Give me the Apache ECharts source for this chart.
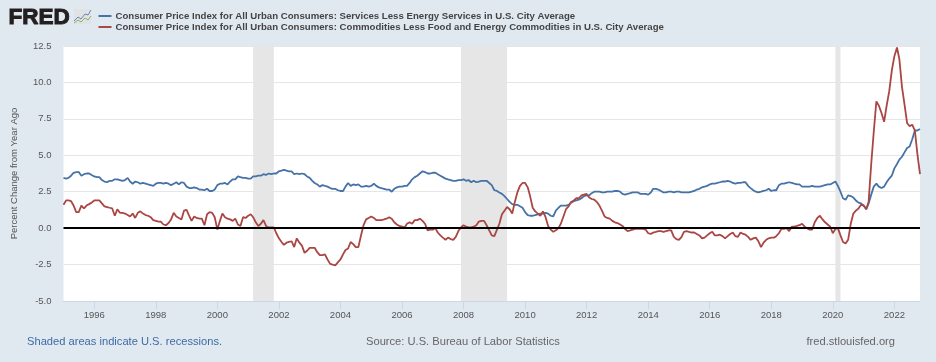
<!DOCTYPE html>
<html><head><meta charset="utf-8">
<style>html,body{margin:0;padding:0;background:#e1e9f0}#c{width:936px;height:362px}</style>
<script src="https://cdn.jsdelivr.net/npm/echarts@6/dist/echarts.min.js"></script>
</head><body><div id="c"></div>
<script>
const firstYear = 1995;
const seriesNames = [
  "Consumer Price Index for All Urban Consumers: Services Less Energy Services in U.S. City Average",
  "Consumer Price Index for All Urban Consumers: Commodities Less Food and Energy Commodities in U.S. City Average"
];
const services = [
3.45,3.4,3.45,3.6,3.8,3.85,3.85,3.6,3.7,3.75,3.75,3.65,
3.55,3.5,3.5,3.3,3.2,3.15,3.25,3.25,3.35,3.35,3.3,3.25,
3.3,3.45,3.2,3.05,3.2,3.15,3.05,3.1,3.05,3.0,2.95,2.9,
3.05,3.1,3.1,3.05,3.1,3.05,2.95,3.05,3.15,3.0,3.15,3.1,
2.85,2.75,2.75,2.8,2.75,2.65,2.65,2.6,2.7,2.55,2.55,2.65,
2.95,3.05,3.05,3.1,3.0,3.2,3.35,3.35,3.55,3.5,3.45,3.45,
3.4,3.4,3.55,3.55,3.6,3.6,3.7,3.65,3.75,3.7,3.75,3.75,
3.9,3.95,4.0,3.95,3.9,3.9,3.7,3.75,3.7,3.75,3.7,3.55,
3.45,3.25,3.1,3.0,2.85,2.95,2.9,2.85,2.75,2.7,2.7,2.6,
2.55,2.55,2.85,3.1,2.9,3.0,2.95,3.0,2.85,2.85,2.9,2.85,
2.9,3.05,2.9,2.8,2.75,2.7,2.65,2.65,2.5,2.7,2.8,2.85,
2.85,2.9,2.9,3.1,3.35,3.5,3.6,3.75,3.9,3.85,3.75,3.75,
3.8,3.8,3.7,3.6,3.5,3.4,3.35,3.3,3.25,3.25,3.3,3.3,
3.35,3.25,3.3,3.15,3.25,3.15,3.2,3.25,3.25,3.25,3.1,2.95,
2.6,2.55,2.45,2.35,2.2,2.0,1.8,1.65,1.6,1.6,1.5,1.4,
1.1,0.9,0.85,0.85,0.9,0.95,1.0,1.0,1.05,1.0,0.85,0.8,
1.2,1.4,1.55,1.55,1.55,1.6,1.75,1.85,1.9,1.95,2.05,2.2,
2.25,2.25,2.4,2.5,2.5,2.5,2.45,2.45,2.5,2.5,2.5,2.55,
2.55,2.5,2.35,2.3,2.35,2.4,2.45,2.45,2.45,2.35,2.35,2.35,
2.3,2.45,2.7,2.7,2.65,2.55,2.45,2.45,2.5,2.5,2.45,2.5,
2.5,2.45,2.45,2.45,2.45,2.5,2.55,2.65,2.7,2.8,2.85,2.9,
3.0,3.05,3.05,3.1,3.15,3.2,3.2,3.25,3.2,3.1,3.05,3.1,
3.1,3.15,3.15,2.9,2.75,2.6,2.5,2.45,2.5,2.55,2.6,2.7,
2.55,2.6,2.6,2.95,3.05,3.05,3.1,3.15,3.1,3.05,3.0,3.0,
2.85,2.85,2.85,2.85,2.9,2.85,2.85,2.85,2.9,2.95,3.0,3.0,
3.1,3.2,2.9,2.5,2.05,1.95,2.25,2.2,2.1,1.9,1.75,1.7,
1.55,1.3,1.7,2.3,2.85,3.05,2.85,2.75,2.85,3.15,3.4,3.6,
4.1,4.4,4.7,4.9,5.2,5.5,5.6,6.1,6.7,6.7,6.8
];
const commodities = [
1.6,1.9,1.9,1.85,1.55,1.1,1.1,1.55,1.35,1.55,1.65,1.75,
1.9,1.9,1.9,1.7,1.5,1.45,1.4,1.35,0.85,1.3,1.05,1.05,
1.0,0.9,0.8,1.0,0.7,1.05,1.15,1.0,0.9,0.85,0.75,0.55,
0.5,0.45,0.45,0.25,0.2,0.35,0.6,1.05,0.8,0.7,0.6,1.2,
1.25,0.85,0.5,0.8,0.7,0.65,0.65,0.2,0.95,1.1,1.05,0.75,
-0.1,0.5,1.0,0.75,0.65,0.6,0.5,0.65,0.25,0.15,0.75,0.7,
0.85,0.95,0.75,0.4,0.15,0.3,0.55,0.15,0.05,0.05,0.05,-0.35,
-0.7,-0.95,-1.15,-1.0,-0.95,-0.9,-1.3,-0.7,-1.0,-1.2,-1.7,-1.55,
-1.35,-1.35,-1.35,-1.65,-1.85,-1.85,-1.8,-2.15,-2.45,-2.5,-2.55,-2.35,
-2.15,-1.8,-1.5,-1.4,-0.95,-1.1,-1.3,-1.3,-0.5,0.2,0.6,0.7,
0.8,0.7,0.55,0.55,0.55,0.6,0.65,0.75,0.65,0.4,0.25,0.15,
0.1,0.05,0.3,0.4,0.3,0.55,0.55,0.65,0.5,0.3,-0.15,-0.1,
-0.1,0,-0.3,-0.5,-0.65,-0.8,-0.65,-0.75,-0.8,-0.6,-0.2,0.05,
0.2,0.1,0.05,0.05,0.1,0.2,0.45,0.5,0.5,0.2,-0.15,-0.5,
-0.55,-0.1,0.3,0.95,1.2,1.45,1.3,1.0,1.8,2.45,2.9,3.1,
3.1,2.8,2.2,1.4,1.15,1.0,0.85,1.15,0.75,0.15,-0.1,-0.25,
-0.15,0,0.3,0.8,1.3,1.5,1.8,1.9,2.05,2.05,2.25,2.3,
2.35,2.1,2.0,1.95,1.8,1.55,1.2,0.8,0.7,0.65,0.5,0.4,
0.35,0.25,0.15,-0.05,-0.2,-0.15,-0.1,-0.05,-0.05,-0.05,-0.05,-0.1,
-0.35,-0.4,-0.3,-0.25,-0.2,-0.2,-0.25,-0.2,-0.15,-0.15,-0.6,-0.75,
-0.8,-0.6,-0.25,-0.2,-0.25,-0.3,-0.3,-0.4,-0.5,-0.7,-0.65,-0.5,
-0.35,-0.25,-0.5,-0.5,-0.45,-0.55,-0.7,-0.55,-0.4,-0.3,-0.55,-0.6,
-0.3,-0.4,-0.45,-0.6,-0.8,-0.7,-0.65,-0.9,-1.3,-1.0,-0.8,-0.7,
-0.65,-0.65,-0.55,-0.35,-0.05,-0.05,0,-0.2,0.1,0.1,0.15,0.2,
0.3,0.1,0,-0.1,-0.1,0.4,0.7,0.85,0.6,0.4,0.25,0.1,
-0.35,-0.05,0,-0.5,-0.95,-1.05,-0.8,0.3,1.0,1.2,1.35,1.6,
1.55,1.3,1.8,4.4,6.6,8.7,8.4,7.9,7.3,8.4,9.4,10.8,
11.8,12.4,11.6,9.7,8.5,7.2,7.0,7.1,6.7,5.1,3.7
];
const yearTicks = [1996,1998,2000,2002,2004,2006,2008,2010,2012,2014,2016,2018,2020,2022];
const recessions = [[2001,2,2001,10],[2007,11,2009,5],[2020,1,2020,3]];

const t = (y,m) => Date.UTC(y,m,1);
const toPairs = arr => arr.map((v,i) => [t(firstYear + Math.floor(i/12), i%12), v]);
const tickTimes = yearTicks.map(y => t(y,0));
const font = '"Liberation Sans", Arial, sans-serif';

const chart = echarts.init(document.getElementById('c'), null, {renderer:'canvas'});
chart.setOption({
  animation:false,
  backgroundColor:'#e1e9f0',
  grid:{left:63.5,right:16,top:46,bottom:61,backgroundColor:'#ffffff',show:true,borderWidth:0},
  legend:{
    orient:'vertical',left:98.5,top:10.5,itemWidth:13,itemHeight:2,itemGap:0,padding:0,
    icon:'rect',
    textStyle:{fontFamily:font,fontWeight:'bold',fontSize:9.63,lineHeight:11,color:'#444',padding:[0,0,0,-1]},
    data:seriesNames
  },
  xAxis:{
    type:'value',min:t(1995,0),max:t(2022,10),scale:true,
    axisLine:{show:true,onZero:false,lineStyle:{color:'#ccd6eb',width:1}},
    axisTick:{show:true,length:8,lineStyle:{color:'#ccd6eb'},customValues:tickTimes},
    axisLabel:{customValues:tickTimes,color:'#555',fontFamily:font,fontSize:9.5,margin:9,
      formatter:v=>String(new Date(v).getUTCFullYear())},
    splitLine:{show:false}
  },
  yAxis:{
    type:'value',min:-5,max:12.5,interval:2.5,
    name:'Percent Change from Year Ago',nameLocation:'middle',nameGap:44,
    nameTextStyle:{color:'#555',fontFamily:font,fontSize:9.5},
    axisLine:{show:false},axisTick:{show:false},
    axisLabel:{color:'#555',fontFamily:font,fontSize:9.5,margin:12,formatter:v=>v.toFixed(1)},
    splitLine:{show:true,lineStyle:{color:'#e6e6e6',width:1}}
  },
  series:[
    {name:seriesNames[0],type:'line',showSymbol:false,symbol:'none',data:toPairs(services),
     lineStyle:{color:'#4572a7',width:1.8},itemStyle:{color:'#4572a7'},z:3,
     markArea:{silent:true,itemStyle:{color:'#e6e6e6'},
       data:recessions.map(r=>[{xAxis:t(r[0],r[1])},{xAxis:t(r[2],r[3])}])}},
    {name:seriesNames[1],type:'line',showSymbol:false,symbol:'none',data:toPairs(commodities),
     lineStyle:{color:'#aa4643',width:1.8},itemStyle:{color:'#aa4643'},z:4,
     markLine:{silent:true,symbol:'none',label:{show:false},lineStyle:{color:'#000',width:2,type:'solid'},
       data:[{yAxis:0}],z:5}}
  ],
  graphic:[
    {type:'text',left:8,top:6,style:{text:'FRED',font:'900 22.5px "Liberation Sans", Arial, sans-serif',fill:'#231f20',stroke:'#231f20',lineWidth:1}},
    {type:'rect',shape:{x:74,y:9,width:17,height:15,r:1},style:{fill:'#dfe3e6'}},
    {type:'polyline',shape:{points:[[74,21],[78,17],[81,19],[85,14],[88,15],[91,10]]},style:{stroke:'#4572a7',fill:'none',lineWidth:0.8}},
    {type:'polyline',shape:{points:[[74,23],[78,20],[81,22],[85,18],[88,20],[91,16]]},style:{stroke:'#7aa33f',fill:'none',lineWidth:0.8}},
    {type:'text',left:27,top:336,style:{text:'Shaded areas indicate U.S. recessions.',font:'11.15px "Liberation Sans", Arial, sans-serif',fill:'#3e6aa6'}},
    {type:'text',left:366,top:336,style:{text:'Source: U.S. Bureau of Labor Statistics',font:'11.15px "Liberation Sans", Arial, sans-serif',fill:'#666'}},
    {type:'text',right:41,top:336,style:{text:'fred.stlouisfed.org',font:'11.15px "Liberation Sans", Arial, sans-serif',fill:'#666'}}
  ]
});
</script></body></html>
